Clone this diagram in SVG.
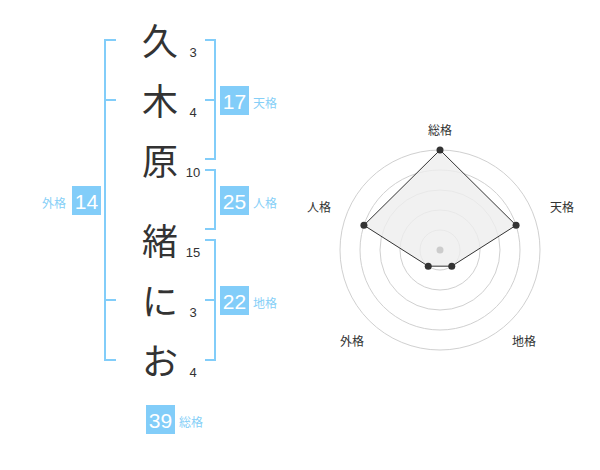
<svg xmlns="http://www.w3.org/2000/svg" width="600" height="470" viewBox="0 0 600 470">
<style>
.ch{font-family:"Noto Sans CJK JP","Noto Sans CJK SC",sans-serif;font-size:36px;fill:#333;text-anchor:middle}
.st{font-family:"Liberation Sans",Arial,sans-serif;font-size:13px;fill:#333;text-anchor:middle}
.br{fill:none;stroke:#82cdf9;stroke-width:2}
.bx{fill:#82cdf9}
.bn{font-family:"Liberation Sans",Arial,sans-serif;font-size:21px;fill:#fff;text-anchor:middle}
.lb{font-family:"Noto Sans CJK JP","Noto Sans CJK SC",sans-serif;font-size:12px;fill:#86cff7}
.grid{fill:none;stroke:#d0d0d0;stroke-width:1}
.ax{font-family:"Noto Sans CJK JP","Noto Sans CJK SC",sans-serif;font-size:12px;fill:#333;text-anchor:middle}
</style>
<rect width="600" height="470" fill="#fff"/>
<g id="chars">
<text class="ch" x="160" y="55">久</text>
<text class="ch" x="160" y="115">木</text>
<text class="ch" x="160" y="175">原</text>
<text class="ch" x="160" y="255">緒</text>
<text class="ch" x="160" y="315">に</text>
<text class="ch" x="160" y="375">お</text>
</g>
<g id="strokes">
<text class="st" x="193" y="57">3</text>
<text class="st" x="193" y="117">4</text>
<text class="st" x="193" y="177">10</text>
<text class="st" x="193" y="257">15</text>
<text class="st" x="193" y="317">3</text>
<text class="st" x="193" y="377">4</text>
</g>
<g id="connectors">
<path class="br" d="M116,40H105V360H116M105,100H116M105,300H116"/>
<path class="br" d="M205,40H215V159H205M205,100H215"/>
<path class="br" d="M205,170H215V229H205"/>
<path class="br" d="M205,240H215V360H205M205,300H215"/>
</g>
<g id="gaikaku">
<rect class="bx" x="72" y="186" width="29" height="29"/>
<text class="bn" x="86.5" y="208.5">14</text>
<text class="lb" x="66" y="208" text-anchor="end">外格</text>
</g>
<g id="tenkaku">
<rect class="bx" x="220" y="86" width="29" height="29"/>
<text class="bn" x="234.5" y="108.5">17</text>
<text class="lb" x="253" y="108">天格</text>
</g>
<g id="jinkaku">
<rect class="bx" x="220" y="186" width="29" height="29"/>
<text class="bn" x="234.5" y="208.5">25</text>
<text class="lb" x="253" y="208">人格</text>
</g>
<g id="chikaku">
<rect class="bx" x="220" y="286" width="29" height="29"/>
<text class="bn" x="234.5" y="308.5">22</text>
<text class="lb" x="253" y="308">地格</text>
</g>
<g id="soukaku">
<rect class="bx" x="146" y="405" width="29" height="29"/>
<text class="bn" x="160.5" y="427.5">39</text>
<text class="lb" x="179" y="427">総格</text>
</g>
<g id="radar">
<circle class="grid" cx="440" cy="250" r="20"/>
<circle class="grid" cx="440" cy="250" r="40"/>
<circle class="grid" cx="440" cy="250" r="60"/>
<circle class="grid" cx="440" cy="250" r="80"/>
<circle class="grid" cx="440" cy="250" r="100"/>
<polygon points="440,150 516.08,225.28 451.76,266.18 428.24,266.18 363.92,225.28" fill="#eeeeee" fill-opacity="0.8" stroke="#333" stroke-width="1"/>
<circle cx="440" cy="250" r="3.5" fill="#cccccc"/>
<g fill="#333">
<circle cx="440" cy="150" r="3.5"/>
<circle cx="516.08" cy="225.28" r="3.5"/>
<circle cx="451.76" cy="266.18" r="3.5"/>
<circle cx="428.24" cy="266.18" r="3.5"/>
<circle cx="363.92" cy="225.28" r="3.5"/>
</g>
<text class="ax" x="440" y="135">総格</text>
<text class="ax" x="562" y="212">天格</text>
<text class="ax" x="524" y="346">地格</text>
<text class="ax" x="352" y="346">外格</text>
<text class="ax" x="319" y="212">人格</text>
</g>
</svg>
